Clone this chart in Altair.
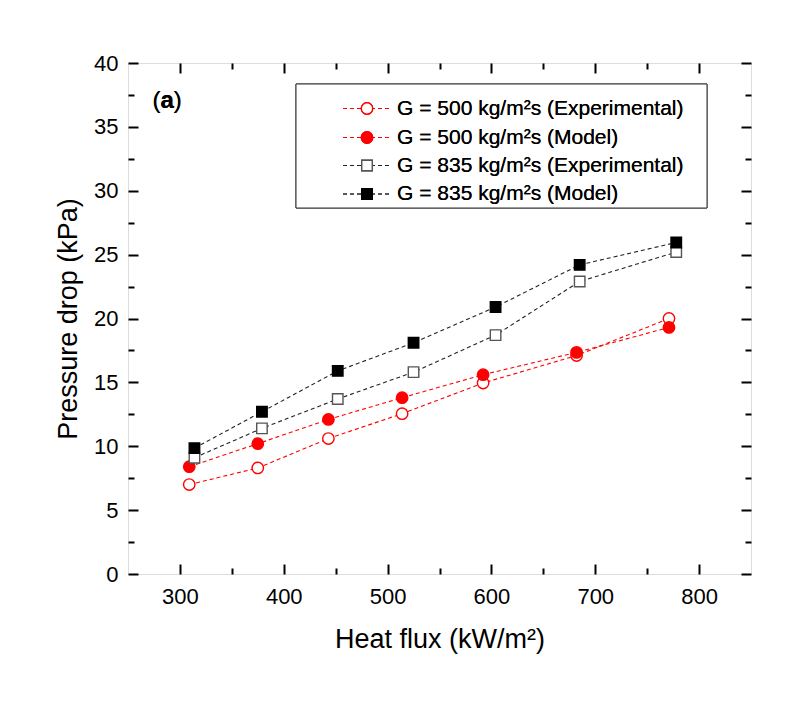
import altair as alt
import pandas as pd

# ---- data ----
heat_500 = [309, 375, 443, 514, 592, 682, 771]
dp_500_exp = [7.0, 8.3, 10.6, 12.55, 14.95, 17.1, 20.0]
dp_500_mod = [8.4, 10.2, 12.1, 13.8, 15.6, 17.35, 19.3]
heat_835 = [314, 379, 452, 525, 604, 685, 778]
dp_835_exp = [9.1, 11.4, 13.7, 15.8, 18.7, 22.9, 25.2]
dp_835_mod = [9.85, 12.7, 15.9, 18.1, 20.9, 24.2, 25.95]

series_labels = [
    "G = 500 kg/m²s (Experimental)",
    "G = 500 kg/m²s (Model)",
    "G = 835 kg/m²s (Experimental)",
    "G = 835 kg/m²s (Model)",
]
x_major = [300, 400, 500, 600, 700, 800]
x_minor = [350, 450, 550, 650, 750]
y_major = [0, 5, 10, 15, 20, 25, 30, 35, 40]
y_minor = [2.5, 7.5, 12.5, 17.5, 22.5, 27.5, 32.5, 37.5]

FONT = "Liberation Sans"
W, H = 623, 511
xsc = alt.Scale(domain=[250, 850], nice=False, zero=False)
ysc = alt.Scale(domain=[0, 40], nice=False, zero=False)

# styles per series: (line color, marker shape, fill, stroke, size)
styles = [
    ("#ff0000", "circle", "white", "#ff0000", 130),
    ("#ff0000", "circle", "#ff0000", "#ff0000", 130),
    ("#222222", "square", "white", "#555555", 110),
    ("#222222", "square", "black", "black", 110),
]
series_data = [
    (heat_500, dp_500_exp),
    (heat_500, dp_500_mod),
    (heat_835, dp_835_exp),
    (heat_835, dp_835_mod),
]

layers = []

# ---- axis layers (inward ticks via negative offset) ----
frame = pd.DataFrame({"x": [250, 850], "y": [0, 40]})


def axis_layer(xaxis, yaxis):
    return alt.Chart(frame).mark_point(opacity=0).encode(
        x=alt.X("x:Q", scale=xsc, axis=xaxis),
        y=alt.Y("y:Q", scale=ysc, axis=yaxis),
    )


common = dict(domain=False, grid=False, tickColor="black", tickWidth=2)
layers.append(axis_layer(
    alt.Axis(orient="bottom", values=x_major, format="d", tickSize=10, offset=-10,
             labelFont=FONT, labelFontSize=22, labelColor="black", labelPadding=12,
             labelFlush=False, title="Heat flux (kW/m²)", titleFont=FONT,
             titleFontSize=27, titleFontWeight="normal", titleColor="black",
             titlePadding=19, **common),
    alt.Axis(orient="left", values=y_major, format="d", tickSize=10, offset=-10,
             labelFont=FONT, labelFontSize=22, labelColor="black", labelPadding=10,
             labelFlush=False, title="Pressure drop (kPa)", titleFont=FONT,
             titleFontSize=27, titleFontWeight="normal", titleColor="black",
             titlePadding=11, **common),
))
layers.append(axis_layer(
    alt.Axis(orient="bottom", values=x_minor, labels=False, tickSize=6, offset=-6,
             title=None, **common),
    alt.Axis(orient="left", values=y_minor, labels=False, tickSize=6, offset=-6,
             title=None, **common),
))
layers.append(axis_layer(
    alt.Axis(orient="top", values=x_major, labels=False, tickSize=10, offset=-10,
             title=None, **common),
    alt.Axis(orient="right", values=y_major, labels=False, tickSize=10, offset=-10,
             title=None, **common),
))
layers.append(axis_layer(
    alt.Axis(orient="top", values=x_minor, labels=False, tickSize=6, offset=-6,
             title=None, **common),
    alt.Axis(orient="right", values=y_minor, labels=False, tickSize=6, offset=-6,
             title=None, **common),
))

# ---- data series ----
for (xs, ys), label, (lc, shape, fill, stroke, size) in zip(series_data, series_labels, styles):
    df = pd.DataFrame({"x": xs, "y": ys, "series": label})
    base = alt.Chart(df).encode(
        x=alt.X("x:Q", scale=xsc, axis=None),
        y=alt.Y("y:Q", scale=ysc, axis=None),
    )
    layers.append(base.mark_line(color=lc, strokeDash=[4, 3], strokeWidth=1.1))
    layers.append(base.mark_point(shape=shape, size=size, filled=True, fill=fill,
                                  stroke=stroke, strokeWidth=1.4, opacity=1))

# ---- legend (drawn manually) ----
layers.append(alt.Chart(frame).mark_rect(fill="white", stroke="#333333", strokeWidth=1).encode(
    x=alt.value(168), x2=alt.value(579), y=alt.value(21), y2=alt.value(145)))
row_y = [45.5, 74.5, 102.5, 131]
for ry, label, (lc, shape, fill, stroke, size) in zip(row_y, series_labels, styles):
    layers.append(alt.Chart(frame).mark_rule(color=lc, strokeDash=[4, 3], strokeWidth=1.1).encode(
        x=alt.value(215), x2=alt.value(261), y=alt.value(ry)))
    layers.append(alt.Chart(frame).mark_point(shape=shape, size=size, filled=True, fill=fill,
                                              stroke=stroke, strokeWidth=1.4, opacity=1).encode(
        x=alt.value(239), y=alt.value(ry)))
    layers.append(alt.Chart(frame).mark_text(text=label, font=FONT, fontSize=21, align="left",
                                             baseline="middle", color="black").encode(
        x=alt.value(269), y=alt.value(ry)))

# ---- panel label (a) ----
layers.append(alt.Chart(frame).mark_text(text="(", font=FONT, fontSize=24, align="left",
                                         baseline="middle", color="black").encode(
    x=alt.value(24.5), y=alt.value(38)))
layers.append(alt.Chart(frame).mark_text(text="a", font=FONT, fontSize=24, fontWeight="bold",
                                         align="left", baseline="middle", color="black").encode(
    x=alt.value(32.5), y=alt.value(38)))
layers.append(alt.Chart(frame).mark_text(text=")", font=FONT, fontSize=24, align="left",
                                         baseline="middle", color="black").encode(
    x=alt.value(45.8), y=alt.value(38)))

chart = alt.layer(*layers).resolve_axis(x="independent", y="independent").properties(
    width=W, height=H,
    autosize=alt.AutoSizeParams(type="none"),
    padding={"left": 128, "top": 63, "right": 49, "bottom": 131},
).configure_view(stroke="black", strokeWidth=2.5).configure(background="white")

chart.save("out.html", embed_options={"renderer": "svg", "actions": False})
